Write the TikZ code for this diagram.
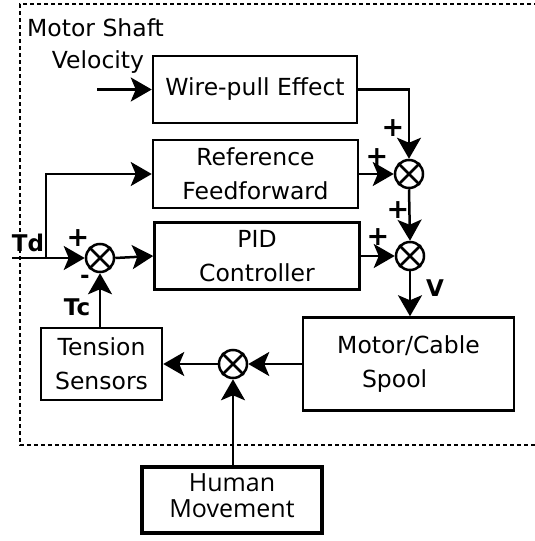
\documentclass[tikz,border=0pt]{standalone}
\usepackage{fontspec}
\setmainfont{DejaVu Sans}
\newfontfamily\humanfont{Open Sans}
\usetikzlibrary{arrows.meta}
\begin{document}
\begin{tikzpicture}[x=1pt,y=-1pt,
  every node/.style={font=\fontsize{23.5}{34}\selectfont},
  blk/.style={draw, line width=2.5pt, rectangle, align=center, inner sep=0pt},
  sumj/.style={draw, circle, line width=2.5pt, minimum size=28pt, inner sep=0pt},
  conn/.style={line width=2.5pt},
  arr/.style={conn, -{Stealth[length=21pt,width=24pt,inset=5pt]}},
  sgn/.style={font=\fontsize{23}{23}\selectfont\bfseries, inner sep=0pt},
  pls/.style={font=\fontsize{27}{27}\selectfont\bfseries, inner sep=0pt},
  lbl/.style={inner sep=0pt},
]
\useasboundingbox (0,0) rectangle (535,541);

% dashed frame (right side off the picture)
\draw[line width=2.6pt, dash pattern=on 4pt off 3pt] (545,4) -- (20,4) -- (20,445) -- (545,445);

% blocks
\node[blk, minimum width=204pt, minimum height=67pt] (wire) at (255,89.5) {Wire-pull Effect};
\node[blk, minimum width=205pt, minimum height=68pt] (ref) at (255.5,174) {Reference\\Feedforward};
\node[blk, minimum width=205pt, minimum height=67pt] (pid) at (257,256) {PID\\Controller};
\node[blk, minimum width=211pt, minimum height=93pt] (motor) at (408.5,364) {Motor/Cable\\Spool\hphantom{xx}};
\node[blk, minimum width=121pt, minimum height=72pt] (tension) at (101.5,364) {Tension\\Sensors};
\node[blk, line width=3.8pt, minimum width=180pt, minimum height=66pt] (human) at (232,500) {};
\node[lbl, align=center, font=\humanfont\fontsize{25}{25.5}\selectfont, yshift=4.5pt] (humantxt) at (human.center) {Human\\Movement};

% summing junctions
\node[sumj] (s1) at (409,174) {};
\node[sumj] (s2) at (410,256) {};
\node[sumj] (s0) at (100,258) {};
\node[sumj] (s3) at (233,364) {};
\foreach \s in {s0,s1,s2,s3}{
  \draw[conn] (\s.45) -- (\s.225);
  \draw[conn] (\s.135) -- (\s.315);
}

% free ends
\coordinate (vin) at (97,89.5);
\coordinate (tdin) at (12,258);
\coordinate (br) at (46,258);

% connectors
\draw[arr] (vin) -- (wire.west);
\draw[arr] (wire.east) -| (s1.north);
\draw[arr] (ref.east) -- (s1.west);
\draw[arr] (s1.south) -- (s2.north);
\draw[arr] (pid.east) -- (s2.west);
\draw[arr] (s2.south) -- (s2.south |- motor.north);
\draw[arr] (motor.west) -- (s3.east);
\draw[arr] (s3.west) -- (tension.east);
\draw[arr] (human.north -| s3) -- (s3.south);
\draw[arr] (tension.north -| s0) -- (s0.south);
\draw[arr] (tdin) -- (s0.west);
\draw[arr] (br) |- (ref.west);
\draw[arr] (s0.east) -- (pid.west);

% texts
\node[lbl, anchor=west] (mst) at (27,28) {Motor Shaft};
\node[lbl] (vel) at (98,62) {Velocity};
\node[sgn] (td) at (28,243) {Td};
\node[sgn] (tc) at (77,307) {Tc};
\node[sgn] (vv) at (435,288) {V};
\node[pls] (p0) at (78,238) {+};
\node[sgn] (m0) at (85,279) {-};
\node[pls] (p1) at (393,128) {+};
\node[pls] (p2) at (377,157) {+};
\node[pls] (p3) at (398,210) {+};
\node[pls] (p4) at (378,237) {+};
\end{tikzpicture}
\end{document}
